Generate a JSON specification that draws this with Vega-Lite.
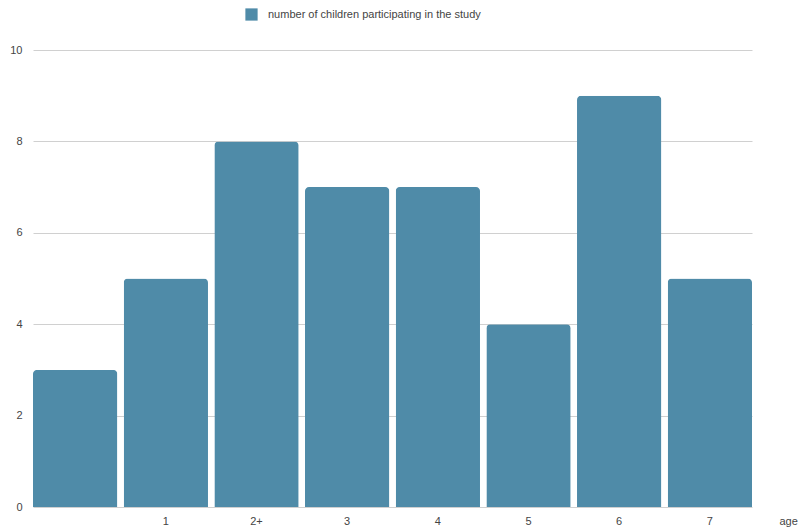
{
  "$schema": "https://vega.github.io/schema/vega-lite/v6.json",
  "autosize": "none",
  "width": 719,
  "height": 457,
  "padding": {"left": 33, "top": 50, "right": 50, "bottom": 20},
  "background": "white",
  "config": {
    "view": {"stroke": null},
    "font": "Liberation Sans"
  },
  "data": {
    "values": [
      {"age": " ", "count": 3, "series": "number of children participating in the study"},
      {"age": "1", "count": 5, "series": "number of children participating in the study"},
      {"age": "2+", "count": 8, "series": "number of children participating in the study"},
      {"age": "3", "count": 7, "series": "number of children participating in the study"},
      {"age": "4", "count": 7, "series": "number of children participating in the study"},
      {"age": "5", "count": 4, "series": "number of children participating in the study"},
      {"age": "6", "count": 9, "series": "number of children participating in the study"},
      {"age": "7", "count": 5, "series": "number of children participating in the study"}
    ]
  },
  "mark": {"type": "bar", "cornerRadiusTopLeft": 4, "cornerRadiusTopRight": 4},
  "encoding": {
    "x": {
      "field": "age",
      "type": "nominal",
      "sort": null,
      "scale": {"paddingInner": 0.07, "paddingOuter": 0},
      "axis": {
        "title": "age",
        "titleAnchor": "end",
        "titleAlign": "left",
        "titleBaseline": "middle",
        "titleX": 746,
        "titleY": 14,
        "titleFontSize": 11,
        "titleFontWeight": "normal",
        "titleColor": "#444",
        "labelAngle": 0,
        "labelFontSize": 11,
        "labelColor": "#444",
        "labelPadding": 8,
        "ticks": false,
        "domain": false
      }
    },
    "y": {
      "field": "count",
      "type": "quantitative",
      "scale": {"domain": [0, 10]},
      "axis": {
        "title": null,
        "values": [0, 2, 4, 6, 8, 10],
        "labelFontSize": 11,
        "labelColor": "#444",
        "labelPadding": 11,
        "ticks": false,
        "domain": false,
        "gridColor": "#d0d0d0"
      }
    },
    "color": {
      "field": "series",
      "type": "nominal",
      "scale": {"range": ["#4f8ba8"]},
      "legend": {
        "title": null,
        "orient": "none",
        "legendX": 212,
        "legendY": -42,
        "symbolType": "square",
        "symbolSize": 150,
        "symbolStrokeWidth": 0,
        "labelFontSize": 11,
        "labelColor": "#444",
        "labelOffset": 10,
        "labelLimit": 0
      }
    }
  }
}
